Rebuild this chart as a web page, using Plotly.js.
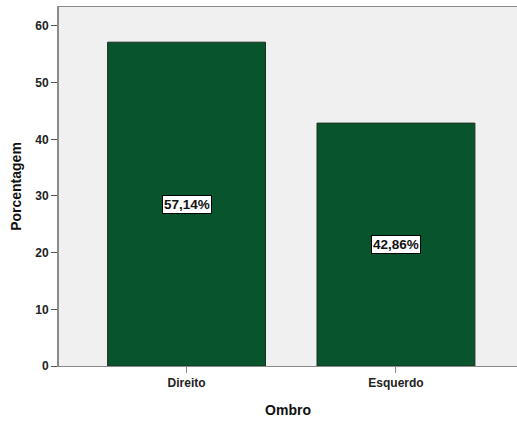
<!DOCTYPE html>
<html>
<head>
<meta charset="utf-8">
<script src="https://cdn.plot.ly/plotly-3.0.1.min.js"></script>
<style>
  html, body { margin: 0; padding: 0; background: #fff; }
  #chart { width: 517px; height: 423px; }
</style>
</head>
<body>
<div id="chart"></div>
<script>
// Shoulder side distribution (percent)
const categories = ['Direito', 'Esquerdo'];
const percentages = [57.14, 42.86];
const valueLabels = ['57,14%', '42,86%'];
const yTicks = [0, 10, 20, 30, 40, 50, 60];

const font = 'Liberation Sans, Arial, sans-serif';

const trace = {
  type: 'bar',
  x: categories,
  y: percentages,
  width: 0.754,
  marker: { color: '#08552d', line: { color: '#1e2f22', width: 1 } },
  hoverinfo: 'skip'
};

// White boxed value labels at the middle of each bar
const annotations = categories.map((c, i) => ({
  x: c,
  y: percentages[i] / 2,
  xref: 'x',
  yref: 'y',
  text: '<b>' + valueLabels[i] + '</b>',
  showarrow: false,
  font: { family: font, size: 13.5, color: '#111' },
  bgcolor: '#ffffff',
  bordercolor: '#000000',
  borderwidth: 1,
  borderpad: 1
}));

const layout = {
  width: 517,
  height: 423,
  margin: { l: 59, r: 0, t: 7, b: 57 },
  paper_bgcolor: '#ffffff',
  plot_bgcolor: '#f0f0f0',
  showlegend: false,
  bargap: 0,
  xaxis: {
    type: 'category',
    range: [-0.609, 1.578],
    showline: true,
    mirror: true,
    linecolor: '#8a8a8a',
    linewidth: 1,
    ticks: 'outside',
    ticklen: 6,
    tickcolor: '#8a8a8a',
    tickfont: { family: font, size: 12, color: '#222' },
    tickprefix: '<b>',
    ticksuffix: '</b>',
    showgrid: false,
    zeroline: false,
    title: { text: '<b>Ombro</b>', font: { family: font, size: 14, color: '#111' }, standoff: 15 }
  },
  yaxis: {
    range: [0, 63.35],
    tickvals: yTicks,
    ticktext: yTicks.map(v => '<b>' + v + '</b>'),
    showline: true,
    linecolor: '#8a8a8a',
    linewidth: 2,
    ticks: 'outside',
    ticklen: 6,
    tickcolor: '#555',
    tickfont: { family: font, size: 12, color: '#222' },
    showgrid: false,
    zeroline: false,
    title: { text: '<b>Porcentagem</b>', font: { family: font, size: 14, color: '#111' }, standoff: 10 }
  },
  annotations: annotations
};

Plotly.newPlot('chart', [trace], layout, { staticPlot: true, displayModeBar: false });
</script>
</body>
</html>
